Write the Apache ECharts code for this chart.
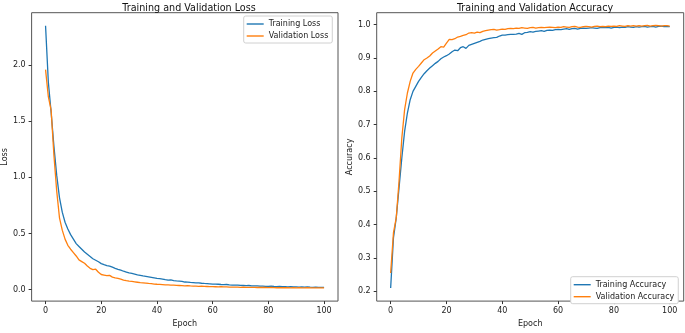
<!DOCTYPE html>
<html>
<head>
<meta charset="utf-8">
<script src="https://cdn.jsdelivr.net/npm/echarts@6/dist/echarts.min.js"></script>
<style>
  html, body { margin: 0; padding: 0; background: #fff; }
  #chart { width: 685px; height: 333px; }
</style>
</head>
<body>
<div id="chart"></div>
<script>
// epochs 0..100
const epochs = [];
for (let i = 0; i <= 100; i++) epochs.push(i);

const trainLoss = [
  2.35, 1.85, 1.58, 1.28, 1.02, 0.82, 0.69, 0.60, 0.54, 0.49,
  0.45, 0.41, 0.385, 0.36, 0.335, 0.315, 0.295, 0.275, 0.262, 0.248,
  0.232, 0.222, 0.214, 0.21, 0.20, 0.19, 0.181, 0.173, 0.164, 0.157,
  0.15, 0.145, 0.139, 0.132, 0.127, 0.122, 0.118, 0.114, 0.11, 0.105,
  0.10, 0.098, 0.094, 0.089, 0.085, 0.087, 0.081, 0.078, 0.076, 0.073,
  0.068, 0.067, 0.064, 0.062, 0.06, 0.061, 0.057, 0.055, 0.054, 0.052,
  0.05, 0.049, 0.048, 0.046, 0.045, 0.046, 0.043, 0.041, 0.04, 0.041,
  0.038, 0.037, 0.036, 0.037, 0.034, 0.033, 0.034, 0.031, 0.032, 0.03,
  0.029, 0.031, 0.028, 0.027, 0.029, 0.026, 0.027, 0.025, 0.026, 0.024,
  0.025, 0.023, 0.024, 0.022, 0.024, 0.022, 0.021, 0.023, 0.021, 0.02,
  0.021
];
const valLoss = [
  1.96, 1.72, 1.60, 1.20, 0.88, 0.64, 0.53, 0.45, 0.395, 0.36,
  0.33, 0.30, 0.265, 0.25, 0.235, 0.21, 0.19, 0.178, 0.182, 0.155,
  0.135, 0.13, 0.125, 0.127, 0.112, 0.105, 0.10, 0.094, 0.085, 0.08,
  0.076, 0.073, 0.07, 0.066, 0.062, 0.06, 0.058, 0.055, 0.053, 0.05,
  0.048, 0.047, 0.045, 0.043, 0.042, 0.04, 0.041, 0.038, 0.037, 0.036,
  0.034, 0.035, 0.033, 0.032, 0.031, 0.03, 0.031, 0.029, 0.028, 0.027,
  0.027, 0.026, 0.025, 0.026, 0.024, 0.024, 0.023, 0.023, 0.022, 0.023,
  0.021, 0.022, 0.021, 0.02, 0.021, 0.02, 0.019, 0.02, 0.019, 0.019,
  0.018, 0.02, 0.018, 0.017, 0.018, 0.017, 0.017, 0.018, 0.016, 0.017,
  0.016, 0.017, 0.016, 0.016, 0.017, 0.015, 0.016, 0.016, 0.015, 0.016,
  0.016
];
const trainAcc = [
  0.21, 0.36, 0.42, 0.51, 0.60, 0.68, 0.735, 0.775, 0.80, 0.815,
  0.83, 0.842, 0.853, 0.862, 0.87, 0.877, 0.884, 0.89, 0.898, 0.903,
  0.907, 0.912, 0.919, 0.924, 0.922, 0.931, 0.934, 0.929, 0.938, 0.941,
  0.944, 0.947, 0.95, 0.954, 0.956, 0.958, 0.96, 0.961, 0.962, 0.966,
  0.969, 0.969, 0.97, 0.971, 0.971, 0.972, 0.974, 0.971, 0.976, 0.977,
  0.979, 0.978, 0.98, 0.981, 0.982, 0.98, 0.983, 0.984, 0.983, 0.985,
  0.986, 0.985, 0.987, 0.988, 0.986, 0.988, 0.989, 0.987, 0.989, 0.99,
  0.989, 0.99, 0.991, 0.99, 0.989, 0.991, 0.992, 0.991, 0.992, 0.99,
  0.992, 0.993, 0.991, 0.993, 0.992, 0.994, 0.993, 0.992, 0.994, 0.993,
  0.994, 0.995, 0.993, 0.994, 0.995, 0.993, 0.995, 0.996, 0.994, 0.995,
  0.994
];
const valAcc = [
  0.255, 0.375, 0.42, 0.53, 0.66, 0.745, 0.795, 0.83, 0.855, 0.866,
  0.875, 0.885, 0.895, 0.90, 0.906, 0.915, 0.921, 0.927, 0.934, 0.933,
  0.945, 0.956, 0.955, 0.958, 0.963, 0.965, 0.968, 0.97, 0.975, 0.976,
  0.975, 0.978, 0.976, 0.98, 0.982, 0.984, 0.985, 0.986, 0.984, 0.985,
  0.987, 0.986, 0.988, 0.989, 0.988, 0.99, 0.989, 0.991, 0.99, 0.989,
  0.991, 0.992, 0.99, 0.991, 0.992, 0.991, 0.992, 0.993, 0.992, 0.991,
  0.993, 0.992, 0.994, 0.993, 0.992, 0.994, 0.995, 0.993, 0.992, 0.994,
  0.995, 0.994, 0.993, 0.995, 0.996, 0.994, 0.995, 0.994, 0.996, 0.995,
  0.996, 0.995, 0.997, 0.996, 0.995, 0.997, 0.996, 0.997, 0.996, 0.997,
  0.996, 0.997, 0.998, 0.996, 0.997, 0.998, 0.997, 0.996, 0.997, 0.997,
  0.996
];

const xTicks = [0, 20, 40, 60, 80, 100];
const lossTicks = [0, 0.5, 1.0, 1.5, 2.0];
const accTicks = [0.2, 0.3, 0.4, 0.5, 0.6, 0.7, 0.8, 0.9, 1.0];

const BLUE = '#1f77b4';
const ORANGE = '#ff7f0e';
const FONT = 'DejaVu Sans';
const LINE_ICON = 'path://M0,0H17V1.4H0Z';

const pair = (ys) => ys.map((y, i) => [epochs[i], y]);

function xAxisCfg(gridIndex) {
  return {
    type: 'value', gridIndex: gridIndex, min: -5, max: 105,
    name: 'Epoch', nameLocation: 'middle', nameGap: 17,
    nameTextStyle: { fontFamily: FONT, fontSize: 8, color: '#222' },
    axisLine: { show: false, onZero: false },
    splitLine: { show: false },
    axisTick: { show: true, length: 3, customValues: xTicks, lineStyle: { color: '#333' } },
    axisLabel: { customValues: xTicks, margin: 6, fontFamily: FONT, fontSize: 8, color: '#222' }
  };
}
function yAxisCfg(gridIndex, name, min, max, ticks, gap) {
  return {
    type: 'value', gridIndex: gridIndex, min: min, max: max,
    name: name, nameLocation: 'middle', nameGap: gap,
    nameTextStyle: { fontFamily: FONT, fontSize: 8, color: '#222' },
    axisLine: { show: false, onZero: false },
    splitLine: { show: false },
    axisTick: { show: true, length: 3, customValues: ticks, lineStyle: { color: '#333' } },
    axisLabel: { customValues: ticks, margin: 6, fontFamily: FONT, fontSize: 8, color: '#222',
      formatter: v => v.toFixed(1) }
  };
}
function legendCfg(left, top, names) {
  return {
    data: names, orient: 'vertical', left: left, top: top,
    icon: LINE_ICON,
    itemWidth: 17, itemHeight: 8, itemGap: 4,
    padding: [4, 4, 3, 3],
    backgroundColor: '#fff', borderColor: '#d0d0d0', borderWidth: 1, borderRadius: 2,
    textStyle: { fontFamily: FONT, fontSize: 8, color: '#222' }
  };
}
function lineSeries(name, data, color, idx) {
  return {
    name: name, type: 'line', xAxisIndex: idx, yAxisIndex: idx,
    data: pair(data), symbol: 'none', animation: false,
    lineStyle: { color: color, width: 1.3 }, itemStyle: { color: color }
  };
}

const chart = echarts.init(document.getElementById('chart'));
chart.setOption({
  backgroundColor: '#fff',
  animation: false,
  title: [
    { text: 'Training and Validation Loss', left: 184, top: -2, textAlign: 'center',
      textStyle: { fontFamily: FONT, fontSize: 9.6, fontWeight: 'normal', color: '#111' } },
    { text: 'Training and Validation Accuracy', left: 530, top: -2, textAlign: 'center',
      textStyle: { fontFamily: FONT, fontSize: 9.6, fontWeight: 'normal', color: '#111' } }
  ],
  grid: [
    { left: 30.5, top: 12.7, width: 307.5, height: 294, show: true,
      borderColor: '#555', borderWidth: 1, backgroundColor: 'transparent' },
    { left: 376.7, top: 12.7, width: 307, height: 294, show: true,
      borderColor: '#555', borderWidth: 1, backgroundColor: 'transparent' }
  ],
  legend: [
    legendCfg(243.7, 16, ['Training Loss', 'Validation Loss']),
    legendCfg(570.7, 276.7, ['Training Accuracy', 'Validation Accuracy'])
  ],
  xAxis: [xAxisCfg(0), xAxisCfg(1)],
  yAxis: [
    yAxisCfg(0, 'Loss', -0.102, 2.467, lossTicks, 21),
    yAxisCfg(1, 'Accuracy', 0.1706, 1.036, accTicks, 23)
  ],
  series: [
    lineSeries('Training Loss', trainLoss, BLUE, 0),
    lineSeries('Validation Loss', valLoss, ORANGE, 0),
    lineSeries('Training Accuracy', trainAcc, BLUE, 1),
    lineSeries('Validation Accuracy', valAcc, ORANGE, 1)
  ]
});
</script>
</body>
</html>
